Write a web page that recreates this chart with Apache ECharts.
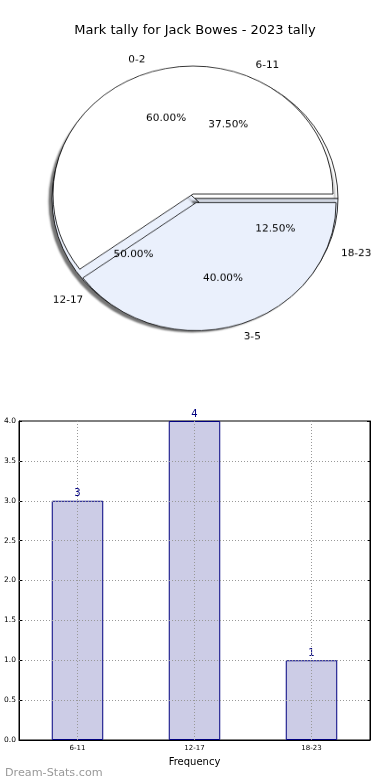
<!DOCTYPE html>
<html>
<head>
<meta charset="utf-8">
<script src="https://cdn.jsdelivr.net/npm/echarts@6/dist/echarts.min.js"></script>
<style>
html,body{margin:0;padding:0;background:#fff;}
#wrap{position:relative;width:390px;height:780px;}
#c{position:absolute;left:0;top:0;width:390px;height:780px;}
#p{position:absolute;left:0;top:0;width:390px;height:390px;transform-origin:0 194px;transform:scaleY(0.914);}
</style>
</head>
<body>
<div id="wrap"><div id="c"></div><div id="p"></div></div>
<script>
// ---- data ----
const titleText = 'Mark tally for Jack Bowes - 2023 tally';
const pieAgeNames = ['0-2', '3-5'];
const pieAgeValues = [3, 2];
const pieMarkNames = ['6-11', '12-17', '18-23'];
const pieMarkValues = [3, 4, 1];
const barCategories = ['6-11', '12-17', '18-23'];
const barValues = [3, 4, 1];
const yTicks = [0.5, 1.0, 1.5, 2.0, 2.5, 3.0, 3.5];
const xAxisName = 'Frequency';
const watermark = 'Dream-Stats.com';

// ---- style ----
const FONT = 'DejaVu Sans';
const WHITE = '#ffffff';
const LIGHT = '#eaf0fc';
const CENTER = [193, 194];
const CENTER2 = [195, 199];
const R = 140;

const chart = echarts.init(document.getElementById('c'), null, {renderer: 'canvas'});
const pie = echarts.init(document.getElementById('p'), null, {renderer: 'canvas'});

function outerLabel() {
  return {show: true, position: 'outside', fontFamily: FONT, fontSize: 10.5, color: '#000',
          distanceToLabelLine: 0};
}
const outerLine = {show: false, length: Math.round(R * 0.1), length2: 0};
const pctFormatter = p => p.percent.toFixed(2) + '%';

pie.setOption({
  animation: false,
  textStyle: {fontFamily: FONT},
  series: [
    {
      type: 'pie', center: CENTER2, radius: [0, R + 3], startAngle: 0, clockwise: false,
      avoidLabelOverlap: false, silent: true, z: 1,
      itemStyle: {borderColor: '#000', borderWidth: 0.8,
                  shadowColor: 'rgba(0,0,0,0.55)', shadowBlur: 2, shadowOffsetX: -3, shadowOffsetY: 3},
      label: outerLabel(), labelLine: {show: false, length: Math.round(R * 0.1) + 1, length2: 0},
      emphasis: {disabled: true},
      data: pieMarkNames.map((n, i) => ({name: n, value: pieMarkValues[i],
        itemStyle: {color: i === 0 ? WHITE : LIGHT}}))
    },
    {
      type: 'pie', center: CENTER, radius: [0, R], startAngle: 0, clockwise: false,
      avoidLabelOverlap: false, silent: true, z: 2,
      selectedMode: 'single', selectedOffset: 10,
      itemStyle: {borderColor: '#000', borderWidth: 0.8},
      label: outerLabel(), labelLine: outerLine,
      emphasis: {disabled: true},
      data: pieAgeNames.map((n, i) => ({name: n, value: pieAgeValues[i], selected: i === 1,
        itemStyle: {color: i === 0 ? WHITE : LIGHT}}))
    },
    {
      type: 'pie', center: CENTER2, radius: [0, R * 1.2], startAngle: 0, clockwise: false,
      avoidLabelOverlap: false, silent: true, z: 3,
      itemStyle: {color: 'rgba(0,0,0,0)', borderWidth: 0},
      label: {show: true, position: 'inside', fontFamily: FONT, fontSize: 10.5, color: '#000',
              formatter: pctFormatter},
      labelLine: {show: false}, emphasis: {disabled: true},
      data: pieMarkNames.map((n, i) => ({name: n, value: pieMarkValues[i]}))
    },
    {
      type: 'pie', center: CENTER, radius: [0, R * 1.2], startAngle: 0, clockwise: false,
      avoidLabelOverlap: false, silent: true, z: 3,
      selectedMode: 'single', selectedOffset: 10,
      itemStyle: {color: 'rgba(0,0,0,0)', borderWidth: 0},
      label: {show: true, position: 'inside', fontFamily: FONT, fontSize: 10.5, color: '#000',
              formatter: pctFormatter},
      labelLine: {show: false}, emphasis: {disabled: true},
      data: pieAgeNames.map((n, i) => ({name: n, value: pieAgeValues[i], selected: i === 1}))
    }
  ]
});

chart.setOption({
  animation: false,
  textStyle: {fontFamily: FONT},
  title: [
    {text: titleText, left: 'center', top: 19,
     textStyle: {fontFamily: FONT, fontSize: 13, fontWeight: 'normal', color: '#000'}},
    {text: watermark, left: 0, top: 763,
     textStyle: {fontFamily: FONT, fontSize: 11.2, fontWeight: 'normal', color: '#999999'}}
  ],
  grid: {left: 19, right: 20, top: 421, bottom: 40, show: true,
         borderColor: '#000', borderWidth: 1, backgroundColor: 'transparent'},
  xAxis: {
    type: 'category', data: barCategories, boundaryGap: true,
    name: xAxisName, nameLocation: 'middle', nameGap: 17,
    nameTextStyle: {fontFamily: FONT, fontSize: 10, color: '#000'},
    axisLine: {lineStyle: {color: '#000'}},
    axisTick: {show: true, alignWithLabel: true, inside: true, length: 3, lineStyle: {color: '#000'}},
    axisLabel: {fontFamily: FONT, fontSize: 7, color: '#000', margin: 5},
    splitLine: {show: false}
  },
  yAxis: [
    {type: 'value', min: 0, max: 4, interval: 0.5,
     axisLine: {show: true, lineStyle: {color: '#000'}},
     axisTick: {show: true, inside: true, length: 3, lineStyle: {color: '#000'}},
     axisLabel: {fontFamily: FONT, fontSize: 7.5, color: '#000', margin: 3,
                 formatter: v => v.toFixed(1)},
     splitLine: {show: false}},
    {type: 'value', min: 0, max: 4, interval: 0.5, position: 'right',
     axisLine: {show: true, lineStyle: {color: '#000'}},
     axisTick: {show: true, inside: true, length: 3, lineStyle: {color: '#000'}},
     axisLabel: {show: false}, splitLine: {show: false}}
  ],
  series: [
    {
      type: 'bar', data: barValues, barWidth: '44%', silent: true, z: 2,
      itemStyle: {color: '#ccccE6', borderColor: '#000080', borderWidth: 1},
      label: {show: true, position: 'top', distance: 2, fontFamily: FONT, fontSize: 10, color: '#000080'},
      emphasis: {disabled: true},
      markLine: {
        silent: true, symbol: ['none', 'none'], label: {show: false}, animation: false,
        lineStyle: {type: [1, 2], color: '#999', width: 1},
        emphasis: {disabled: true},
        data: yTicks.map(v => ({yAxis: v})).concat(barCategories.map(c => ({xAxis: c})))
      }
    }
  ]
});
</script>
</body>
</html>
